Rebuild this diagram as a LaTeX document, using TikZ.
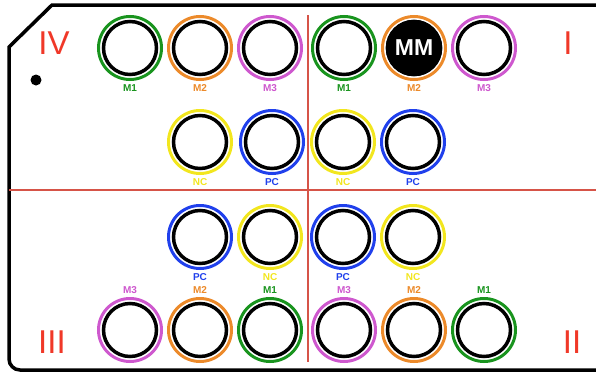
\documentclass[tikz,border=0pt]{standalone}
\usepackage{fontspec}
\setsansfont{Liberation Sans}
\usepackage{tikz}
\usetikzlibrary{positioning}
\definecolor{mgreen}{RGB}{25,148,30}
\definecolor{morange}{RGB}{236,138,42}
\definecolor{mpink}{RGB}{206,88,206}
\definecolor{myellow}{RGB}{242,230,30}
\definecolor{mblue}{RGB}{32,64,236}
\definecolor{linered}{RGB}{214,84,72}
\definecolor{romanred}{RGB}{240,56,40}
\tikzset{>=stealth}

\begin{document}
\begin{tikzpicture}[x=1pt,y=-1pt,
    ring/.style={circle,draw=#1,line width=3pt,minimum size=63pt,inner sep=0pt},
    well/.style={circle,draw=black,line width=3.5pt,minimum size=53pt,inner sep=0pt},
    tag/.style={text=#1,font=\sffamily\bfseries\fontsize{10}{10}\selectfont,inner sep=0pt},
    numeral/.style={text=romanred,font=\sffamily\fontsize{33}{33}\selectfont,inner sep=0pt}]
	\useasboundingbox (0,0) rectangle (596,375);
	\coordinate (P) at (597,5);
	\coordinate (Q) at (52,5);
	\coordinate (R) at (9,47);
	\coordinate (S) at (9,370);
	\coordinate (T) at (597,370);
	\draw[line width=3.5pt] (P) -- (Q) -- (R) [rounded corners=11pt]-- (S) [sharp corners]-- (T);
	\fill (36,80) circle (5.5);
	\draw[linered,line width=1.8pt] (308,15) -- (308,362);
	\draw[linered,line width=1.8pt] (9,190) -- (597,190);
	\node[numeral] (iv) at (54,43.5) {IV};
	\node[numeral] (i) at (568,43.5) {I};
	\node[numeral] (iii) at (52,342) {III};
	\node[numeral] (ii) at (572,342) {II};
	\foreach \x/\c/\t [count=\i] in {130/mgreen/M1,200/morange/M2,270/mpink/M3,344/mgreen/M1,414/morange/M2,484/mpink/M3}{
		\node[ring=\c] (a\i) at (\x,48) {};
		\node[well] (wa\i) at (a\i) {};
		\node[tag=\c,below=3.5pt of a\i] (ta\i) {\t};
	}
	\node[well,fill=black,text=white,font=\sffamily\bfseries\fontsize{23}{23}\selectfont] (mm) at (a5) {MM};
	\foreach \x/\c/\t [count=\i] in {200/myellow/NC,272/mblue/PC,343/myellow/NC,413/mblue/PC}{
		\node[ring=\c] (b\i) at (\x,142) {};
		\node[well] (wb\i) at (b\i) {};
		\node[tag=\c,below=3.5pt of b\i] (tb\i) {\t};
	}
	\foreach \x/\c/\t [count=\i] in {200/mblue/PC,270/myellow/NC,343/mblue/PC,413/myellow/NC}{
		\node[ring=\c] (c\i) at (\x,237) {};
		\node[well] (wc\i) at (c\i) {};
		\node[tag=\c,below=3.5pt of c\i] (tc\i) {\t};
	}
	\foreach \x/\c/\t [count=\i] in {130/mpink/M3,200/morange/M2,270/mgreen/M1,344/mpink/M3,414/morange/M2,484/mgreen/M1}{
		\node[ring=\c] (d\i) at (\x,330) {};
		\node[well] (wd\i) at (d\i) {};
		\node[tag=\c,above=3pt of d\i] (td\i) {\t};
	}
\end{tikzpicture}
\end{document}
